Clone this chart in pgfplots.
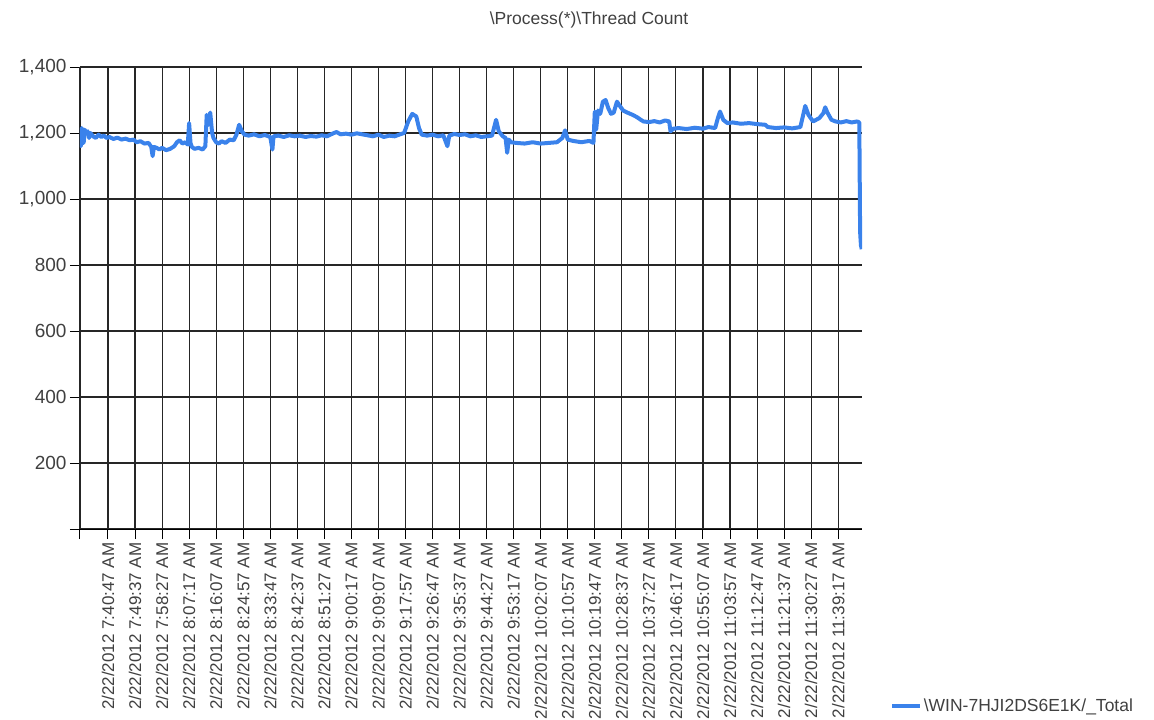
\documentclass[border=0pt]{standalone}
\usepackage{fontspec}
\setmainfont{Liberation Sans}
\usepackage{pgfplots}
\usepackage{pgfplotstable}
\pgfplotsset{compat=1.18}
\definecolor{linec}{RGB}{58,130,235}
\definecolor{txt}{RGB}{64,64,64}
\pgfplotstableread{
x y
-1.03 1185
-1.00 1160
-0.97 1215
-0.93 1195
-0.90 1170
-0.86 1210
-0.80 1200
-0.75 1205
-0.70 1185
-0.65 1200
-0.55 1190
-0.45 1185
-0.35 1195
-0.25 1188
-0.15 1192
-0.05 1185
0.05 1188
0.20 1182
0.35 1186
0.50 1180
0.65 1183
0.80 1178
0.95 1180
1.05 1172
1.20 1175
1.35 1168
1.50 1170
1.60 1158
1.65 1130
1.70 1158
1.80 1155
1.90 1150
2.00 1155
2.15 1148
2.30 1152
2.45 1160
2.55 1172
2.65 1178
2.75 1168
2.85 1172
2.95 1165
3.00 1230
3.05 1170
3.10 1158
3.20 1152
3.35 1155
3.50 1150
3.60 1160
3.65 1255
3.72 1225
3.78 1262
3.85 1200
3.90 1185
4.00 1172
4.10 1168
4.20 1175
4.35 1170
4.50 1180
4.65 1178
4.75 1195
4.85 1225
4.95 1205
5.05 1195
5.20 1192
5.40 1196
5.60 1190
5.80 1194
6.00 1188
6.08 1150
6.12 1190
6.30 1192
6.50 1188
6.70 1193
6.90 1190
7.10 1192
7.30 1188
7.50 1191
7.70 1189
7.90 1193
8.10 1190
8.30 1198
8.45 1203
8.60 1196
8.80 1198
9.00 1195
9.20 1199
9.40 1196
9.60 1193
9.80 1190
10.00 1195
10.20 1188
10.40 1192
10.60 1190
10.80 1196
10.95 1200
11.10 1235
11.25 1258
11.40 1250
11.50 1215
11.60 1195
11.80 1192
12.00 1195
12.20 1190
12.40 1193
12.55 1160
12.62 1192
12.80 1197
13.00 1194
13.20 1196
13.40 1190
13.60 1193
13.80 1188
14.00 1190
14.20 1192
14.35 1240
14.45 1205
14.60 1190
14.70 1185
14.76 1140
14.82 1180
14.90 1172
15.10 1170
15.40 1168
15.70 1172
16.00 1168
16.30 1170
16.60 1172
16.80 1185
16.90 1208
17.00 1180
17.20 1176
17.50 1172
17.80 1176
17.95 1170
18.00 1265
18.05 1210
18.12 1268
18.20 1258
18.30 1295
18.40 1300
18.50 1275
18.60 1258
18.70 1262
18.82 1295
18.90 1285
19.05 1268
19.20 1262
19.40 1255
19.56 1248
19.70 1240
19.80 1235
20.00 1233
20.20 1236
20.40 1232
20.60 1238
20.75 1235
20.80 1205
20.90 1213
21.10 1215
21.40 1212
21.70 1216
22.00 1213
22.20 1218
22.45 1215
22.55 1245
22.63 1265
22.75 1240
22.90 1230
23.10 1232
23.40 1228
23.70 1230
24.00 1227
24.30 1225
24.40 1218
24.70 1215
25.00 1217
25.30 1214
25.60 1218
25.72 1260
25.78 1282
25.90 1255
26.07 1235
26.30 1245
26.45 1260
26.52 1278
26.60 1262
26.75 1240
26.90 1235
27.10 1232
27.30 1236
27.50 1232
27.70 1235
27.78 1232
27.81 900
27.84 860
27.87 848
}\threads
\begin{document}
\begin{tikzpicture}
\useasboundingbox (0,0) rectangle (1154pt,-720pt);
\begin{axis}[
  at={(80pt,-529pt)}, anchor=south west,
  scale only axis, width=782pt, height=462pt,
  xmin=-1.035, xmax=27.88, ymin=0, ymax=1400,
  axis x line*=bottom, axis y line*=left,
  axis line style={black, line width=1pt},
  xtick={0,...,27},
  xticklabels={
    2/22/2012 7:40:47 AM, 2/22/2012 7:49:37 AM, 2/22/2012 7:58:27 AM,
    2/22/2012 8:07:17 AM, 2/22/2012 8:16:07 AM, 2/22/2012 8:24:57 AM,
    2/22/2012 8:33:47 AM, 2/22/2012 8:42:37 AM, 2/22/2012 8:51:27 AM,
    2/22/2012 9:00:17 AM, 2/22/2012 9:09:07 AM, 2/22/2012 9:17:57 AM,
    2/22/2012 9:26:47 AM, 2/22/2012 9:35:37 AM, 2/22/2012 9:44:27 AM,
    2/22/2012 9:53:17 AM, 2/22/2012 10:02:07 AM, 2/22/2012 10:10:57 AM,
    2/22/2012 10:19:47 AM, 2/22/2012 10:28:37 AM, 2/22/2012 10:37:27 AM,
    2/22/2012 10:46:17 AM, 2/22/2012 10:55:07 AM, 2/22/2012 11:03:57 AM,
    2/22/2012 11:12:47 AM, 2/22/2012 11:21:37 AM, 2/22/2012 11:30:27 AM,
    2/22/2012 11:39:17 AM},
  xticklabel style={rotate=90, anchor=east, font=\fontsize{17}{18}\selectfont, text=txt},
  extra x ticks={-1.035}, extra x tick labels={},
  ytick={0,200,...,1400},
  yticklabels={,200,400,600,800,{1,000},{1,200},{1,400}},
  yticklabel style={font=\fontsize{19}{21}\selectfont, text=txt},
  grid=major, major grid style={black!85, line width=1.1pt},
  tick align=outside, major tick length=10pt,
  tick style={black, line width=1pt},
  title={\textbackslash Process(*)\textbackslash Thread Count},
  title style={at={(0.651,1.088)}, anchor=center, font=\fontsize{17.5}{19}\selectfont, text=txt},
  legend style={at={(1.036,-0.383)}, anchor=west, draw=none, fill=none, inner sep=0pt,
    font=\fontsize{17.5}{19}\selectfont, text=txt},
  legend image code/.code={\draw[linec, line width=3.5pt] (0pt,0pt) -- (28pt,0pt);},
]
\addplot[linec, line width=4pt, line join=round] table[x=x, y=y] {\threads};
\addlegendentry{\textbackslash WIN-7HJI2DS6E1K/\_Total}
\end{axis}
\end{tikzpicture}
\end{document}
